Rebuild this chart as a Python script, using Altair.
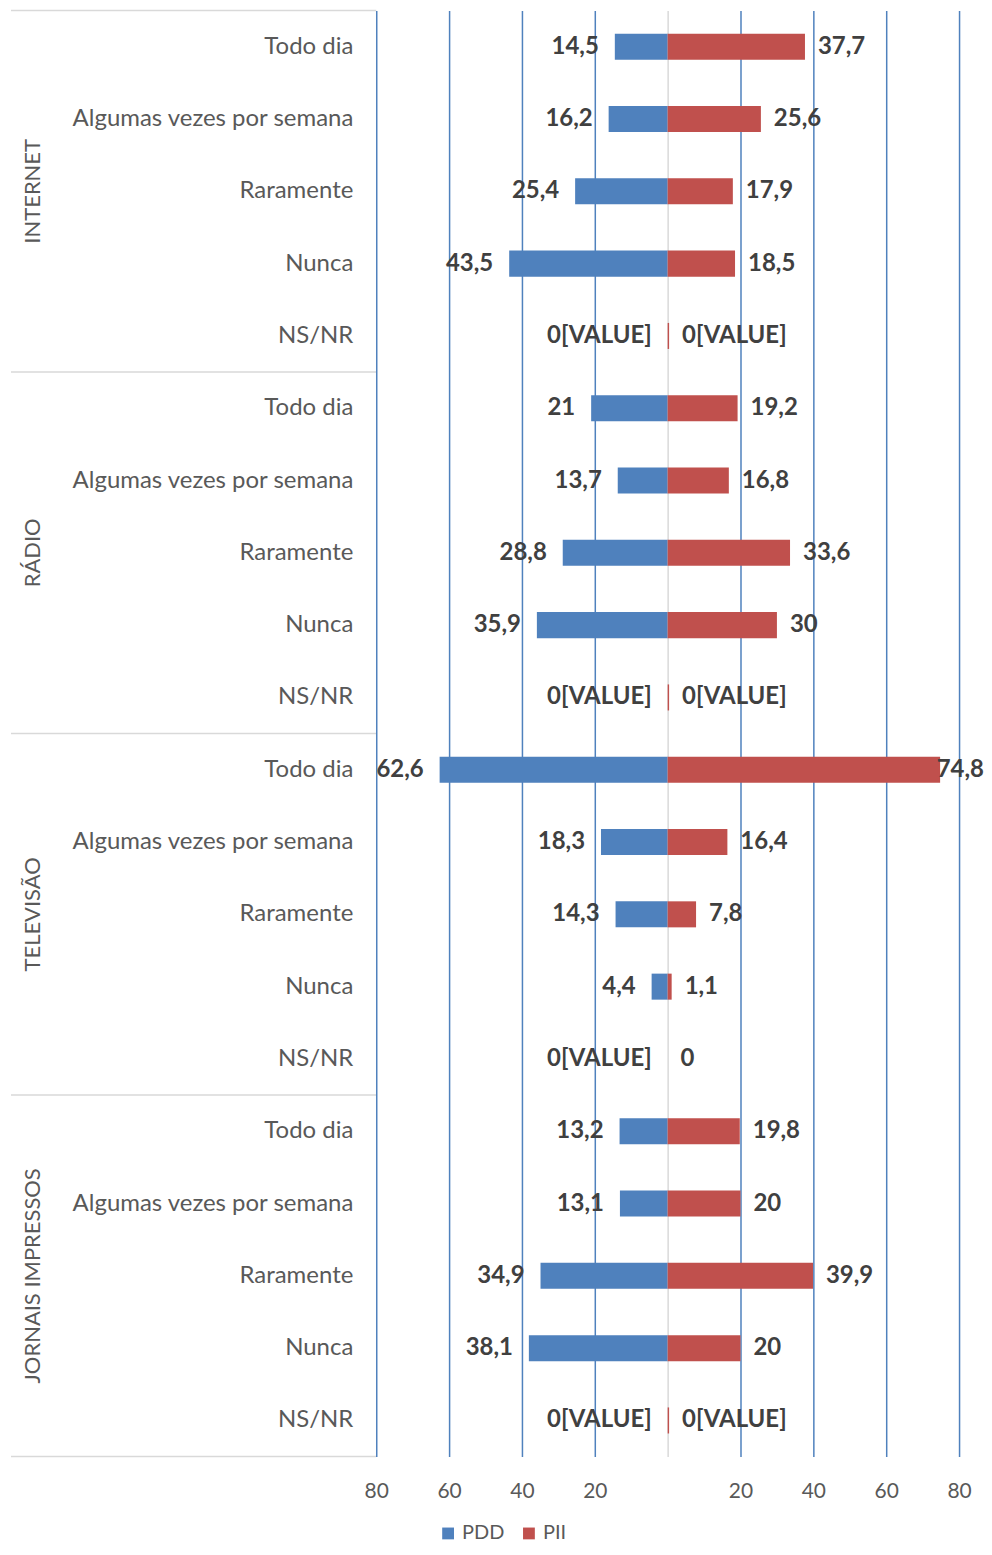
import altair as alt
import pandas as pd

groups = ["INTERNET", "RÁDIO", "TELEVISÃO", "JORNAIS IMPRESSOS"]
categories = ["Todo dia", "Algumas vezes por semana", "Raramente", "Nunca", "NS/NR"]

pdd_values = [
    [14.5, 16.2, 25.4, 43.5, 0],
    [21, 13.7, 28.8, 35.9, 0],
    [62.6, 18.3, 14.3, 4.4, 0],
    [13.2, 13.1, 34.9, 38.1, 0],
]
pii_values = [
    [37.7, 25.6, 17.9, 18.5, 0.4],
    [19.2, 16.8, 33.6, 30, 0.4],
    [74.8, 16.4, 7.8, 1.1, 0],
    [19.8, 20, 39.9, 20, 0.4],
]
pdd_labels = [
    ["14,5", "16,2", "25,4", "43,5", "0[VALUE]"],
    ["21", "13,7", "28,8", "35,9", "0[VALUE]"],
    ["62,6", "18,3", "14,3", "4,4", "0[VALUE]"],
    ["13,2", "13,1", "34,9", "38,1", "0[VALUE]"],
]
pii_labels = [
    ["37,7", "25,6", "17,9", "18,5", "0[VALUE]"],
    ["19,2", "16,8", "33,6", "30", "0[VALUE]"],
    ["74,8", "16,4", "7,8", "1,1", "0"],
    ["19,8", "20", "39,9", "20", "0[VALUE]"],
]
series = ["PDD", "PII"]
colors = ["#4f81bd", "#c0504d"]
tick_values = [-80, -60, -40, -20, 0, 20, 40, 60, 80]

rows = []
keys = []
for gi, g in enumerate(groups):
    for ci, c in enumerate(categories):
        key = f"{g}|{c}"
        keys.append(key)
        last = (gi == len(groups) - 1 and ci == len(categories) - 1)
        rows.append(dict(key=key, group=g, cat=c, series="PDD",
                         v=-pdd_values[gi][ci], label=pdd_labels[gi][ci],
                         first=ci == 0, mid=ci == 2, last=last))
        rows.append(dict(key=key, group=g, cat=c, series="PII",
                         v=pii_values[gi][ci], label=pii_labels[gi][ci],
                         first=ci == 0, mid=ci == 2, last=last))
df = pd.DataFrame(rows)

FONT = "Lato"
H = 1449
yband = alt.Scale(domain=keys, paddingInner=0.64, paddingOuter=0.32)
yleft = alt.Scale(domain=keys, paddingInner=0, paddingOuter=0)

# ---- left label panel ----
left_base = alt.Chart(df).properties(width=366, height=H)
cat_text = left_base.transform_filter("datum.series == 'PDD'").mark_text(
    align="right", baseline="middle", font=FONT, fontSize=24, color="#595959"
).encode(
    y=alt.Y("key:N", scale=yleft, axis=None, sort=keys),
    x=alt.value(343),
    text="cat:N",
)
grp_text = left_base.transform_filter("datum.series == 'PDD' && datum.mid").mark_text(
    align="center", baseline="middle", angle=270, font=FONT, fontSize=22, color="#595959"
).encode(
    y=alt.Y("key:N", scale=yleft, axis=None, sort=keys),
    x=alt.value(22),
    text="group:N",
)
sep_top = left_base.transform_filter("datum.series == 'PDD' && datum.first").mark_rule(
    color="#d9d9d9", strokeWidth=1.5
).encode(
    y=alt.Y("key:N", scale=yleft, axis=None, sort=keys, bandPosition=0),
    x=alt.value(0), x2=alt.value(366),
)
sep_bot = left_base.transform_filter("datum.series == 'PDD' && datum.last").mark_rule(
    color="#d9d9d9", strokeWidth=1.5
).encode(
    y=alt.Y("key:N", scale=yleft, axis=None, sort=keys, bandPosition=1),
    x=alt.value(0), x2=alt.value(366),
)
left = alt.layer(cat_text, grp_text, sep_top, sep_bot)

# ---- bar panel ----
xscale = alt.Scale(domain=[-80, 80], nice=False, zero=False)
base = alt.Chart(df).properties(width=584, height=H)
bars = base.mark_bar().encode(
    y=alt.Y("key:N", scale=yband, axis=None, sort=keys),
    x=alt.X("v:Q", scale=xscale, title=None,
            axis=alt.Axis(values=tick_values, labelExpr="datum.value == 0 ? '' : abs(datum.value)",
                          domain=False, ticks=False, labelPadding=24, labelFont=FONT,
                          labelFontSize=21, labelColor="#595959", labelFlush=False,
                          grid=True,
                          gridColor={"condition": {"test": "datum.value === 0", "value": "#d9d9d9"},
                                     "value": "#4f81bd"},
                          gridWidth=1.5)),
    color=alt.Color("series:N", scale=alt.Scale(domain=series, range=colors),
                    legend=alt.Legend(title=None, orient="none", legendX=428, legendY=1516,
                                      direction="horizontal",
                                      symbolType="square", symbolSize=140, labelFont=FONT,
                                      labelFontSize=20, labelColor="#595959", columnPadding=14,
                                      symbolStrokeWidth=0)),
)
txt_l = base.transform_filter("datum.series == 'PDD'").mark_text(
    align="right", baseline="middle", dx=-16, font=FONT, fontSize=24, fontWeight="bold", color="#404040"
).encode(
    y=alt.Y("key:N", scale=yband, axis=None, sort=keys),
    x=alt.X("v:Q", scale=xscale),
    text="label:N",
)
txt_r = base.transform_filter("datum.series == 'PII'").transform_calculate(
    lx="datum.v > 70 ? datum.v - 4.5 : datum.v"
).mark_text(
    align="left", baseline="middle", dx=13, font=FONT, fontSize=24, fontWeight="bold", color="#404040"
).encode(
    y=alt.Y("key:N", scale=yband, axis=None, sort=keys),
    x=alt.X("lx:Q", scale=xscale),
    text="label:N",
)
right = alt.layer(bars, txt_l, txt_r)

chart = alt.hconcat(left, right, spacing=0, bounds="flush").properties(
    padding={"left": 2, "top": 0, "right": 0, "bottom": 0}
).configure_view(stroke=None).configure_concat(spacing=0)

chart.save("out.html", embed_options={"renderer": "svg", "actions": False})
